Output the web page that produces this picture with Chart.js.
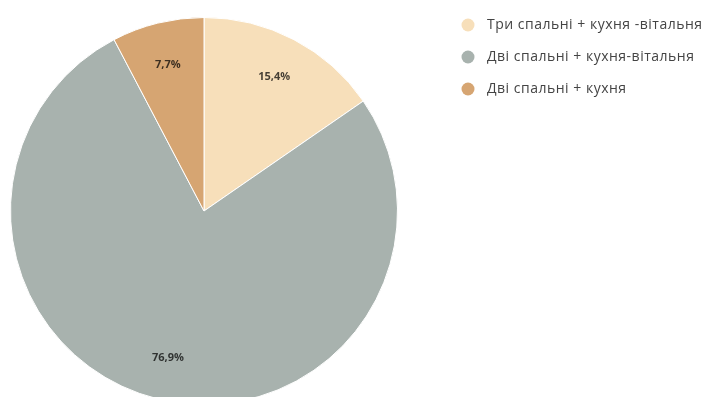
<!DOCTYPE html>
<html>
<head>
<meta charset="utf-8">
<script src="https://cdn.jsdelivr.net/npm/chart.js@4"></script>
<style>
  html, body { margin: 0; padding: 0; background: #fff; overflow: hidden; }
  #wrap { position: absolute; left: 0; top: 0; width: 709px; height: 412px; }
</style>
</head>
<body>
<div id="wrap"><canvas id="pieChart"></canvas></div>
<script>
var labels = [
  "Три спальні + кухня -вітальня",
  "Дві спальні + кухня-вітальня",
  "Дві спальні + кухня"
];
var counts = [2, 10, 1];
var colors = ["#f7dfba", "#a8b2ae", "#d6a572"];

// percentage text on each slice, 1 decimal with comma
var sliceLabels = {
  id: "sliceLabels",
  afterDatasetsDraw(chart) {
    var ctx = chart.ctx;
    var meta = chart.getDatasetMeta(0);
    var data = chart.data.datasets[0].data;
    var total = data.reduce((a, b) => a + b, 0);
    ctx.save();
    ctx.font = "bold 11px 'Open Sans', sans-serif";
    ctx.fillStyle = "rgba(0,0,0,0.72)";
    ctx.textAlign = "center";
    ctx.textBaseline = "middle";
    meta.data.forEach((arc, i) => {
      var p = arc.getProps(["x", "y", "startAngle", "endAngle", "outerRadius"], true);
      var mid = (p.startAngle + p.endAngle) / 2;
      var r = p.outerRadius * 0.78;
      var txt = (data[i] / total * 100).toFixed(1).replace(".", ",") + "%";
      ctx.fillText(txt, p.x + Math.cos(mid) * r, p.y + Math.sin(mid) * r);
    });
    ctx.restore();
  }
};

// legend drawn at the right, point style circles
var sideLegend = {
  id: "sideLegend",
  afterDraw(chart) {
    var ctx = chart.ctx;
    var ds = chart.data.datasets[0];
    ctx.save();
    ctx.font = "14px 'Open Sans', sans-serif";
    ctx.letterSpacing = "0.5px";
    ctx.textBaseline = "middle";
    chart.data.labels.forEach((lbl, i) => {
      var y = 25 + i * 32;
      ctx.beginPath();
      ctx.arc(468, y, 6.5, 0, Math.PI * 2);
      ctx.fillStyle = ds.backgroundColor[i];
      ctx.fill();
      ctx.fillStyle = "#444";
      ctx.fillText(lbl, 487, y);
    });
    ctx.restore();
  }
};

var ctx = document.getElementById("pieChart").getContext("2d");
new Chart(ctx, {
  type: "pie",
  data: {
    labels: labels,
    datasets: [
      {
        data: counts,
        backgroundColor: colors,
        borderColor: "#ffffff",
        borderWidth: 1,
      },
    ],
  },
  options: {
    responsive: true,
    maintainAspectRatio: false,
    animation: false,
    layout: { padding: { top: 16, bottom: 6, left: 10, right: 311 } },
    plugins: {
      legend: { display: false },
      tooltip: { enabled: false },
    },
  },
  plugins: [sliceLabels, sideLegend],
});
</script>
</body>
</html>
